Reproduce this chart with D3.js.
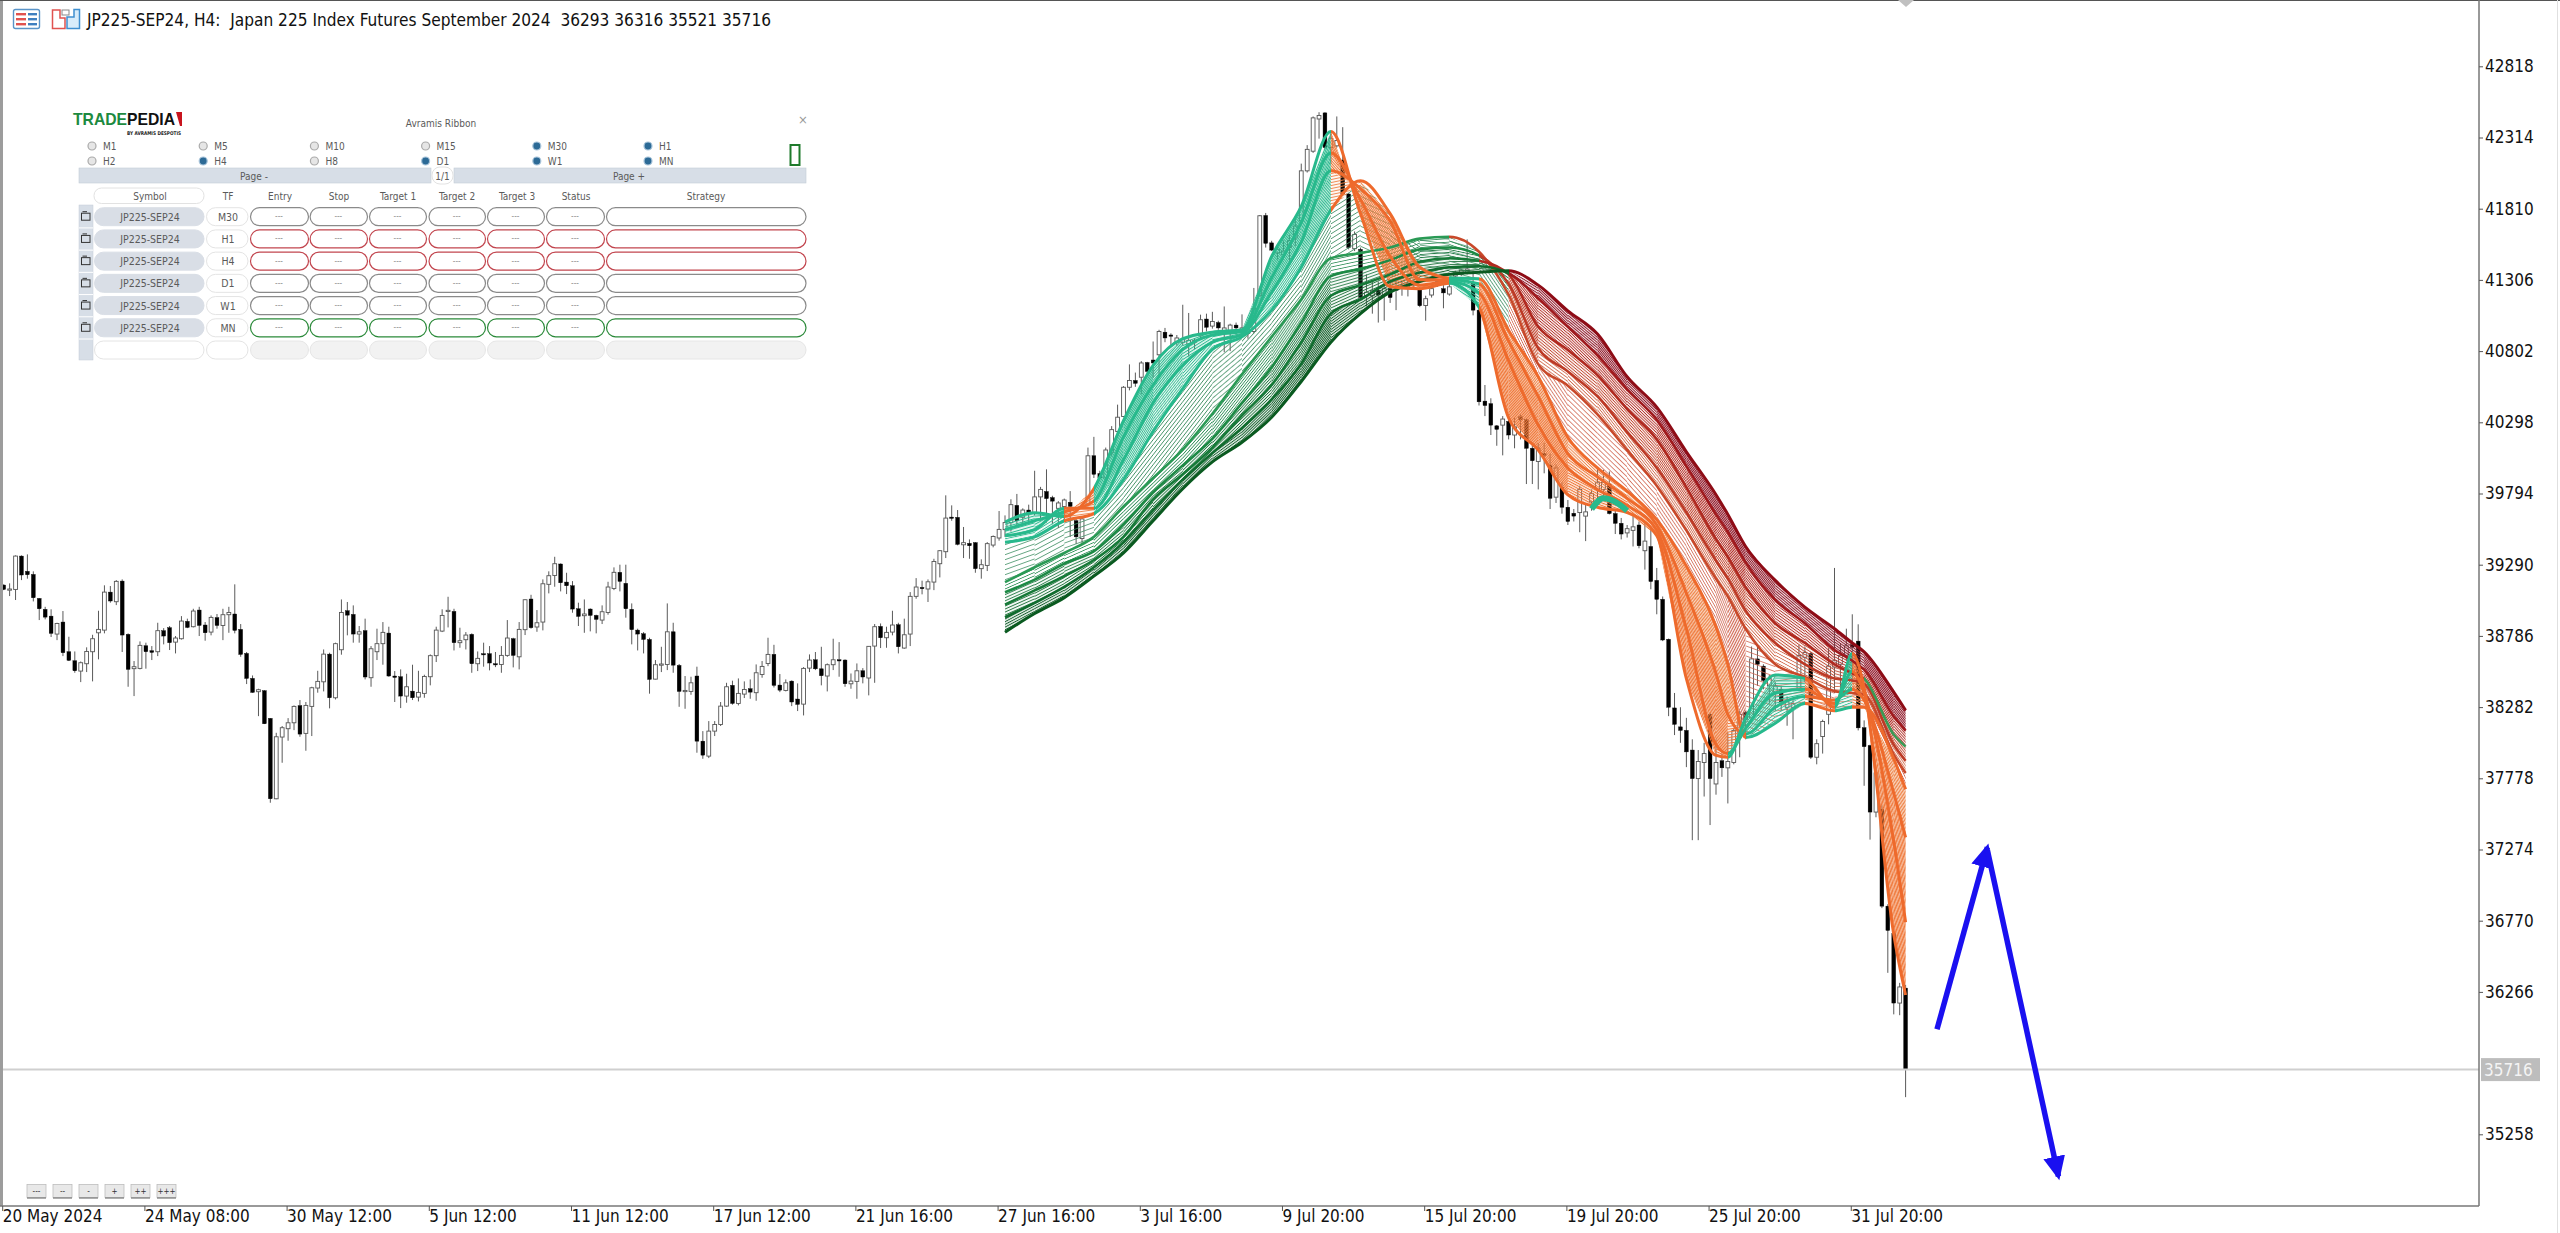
<!DOCTYPE html>
<html><head><meta charset="utf-8">
<script src="https://cdn.jsdelivr.net/npm/d3@7"></script>
<style>
html,body{margin:0;padding:0;background:#fff;overflow:hidden}
svg{display:block}
text{font-family:'DejaVu Sans Condensed','DejaVu Sans',sans-serif;white-space:pre}
</style></head><body>
<svg id="c" width="2560" height="1233"></svg>
<script>
// ---------- data: candles (prices) ----------
const opens=[39146,39113,39115,39351,39243,39221,39051,38974,38926,38799,
38884,38674,38610,38537,38589,38674,38808,38827,39096,39028,
39174,38797,38554,38556,38716,38681,38674,38823,38844,38742,
38766,38889,38851,38969,38863,38813,38915,38860,38936,38941,
38832,38662,38485,38391,38398,38202,37633,38070,38129,38171,
38292,38096,38287,38417,38461,38657,38348,38688,38964,38938,
38799,38823,38490,38674,38731,38806,38502,38497,38360,38395,
38353,38379,38497,38646,38820,38962,38959,38738,38759,38797,
38589,38660,38660,38589,38584,38648,38766,38638,38830,39047,
38849,38884,39151,39214,39295,39167,39141,38978,38929,38976,
38931,38898,38952,39122,39236,39158,38974,38827,38801,38761,
38480,38579,38584,38815,38577,38395,38393,38502,38041,37935,
38112,38159,38289,38436,38308,38374,38412,38384,38513,38591,
38655,38438,38400,38466,38339,38303,38558,38617,38553,38502,
38582,38617,38615,38447,38464,38539,38488,38714,38853,38773,
38813,38865,38700,38799,39066,39129,39118,39167,39297,39382,
39627,39625,39431,39441,39446,39262,39285,39429,39479,39538,
39588,39710,39626,39677,39652,39770,39808,39765,39689,39702,
39732,39601,39475,39715,40061,39935,39904,40086,40233,40339,
40546,40594,40617,40721,40739,40776,40936,40916,40865,40865,
40852,40865,40910,41029,40979,41004,40941,40941,40986,40941,
40928,40941,41194,41762,41568,41497,41484,41535,41603,41724,
42078,42217,42445,42488,42243,42255,42154,41914,41527,41522,
41194,41194,41232,41199,41244,41232,41244,41257,41269,41244,
41125,41199,41269,41244,41206,41333,41345,41358,41282,41092,
40448,40430,40273,40278,40304,40208,40337,40316,40114,40021,
40076,39995,39768,39836,39697,39654,39659,39634,39735,39823,
39823,39861,39652,39583,39515,39533,39571,39389,39419,39179,
39045,38762,38276,38142,38117,37978,37776,37890,38231,37738,
37902,37852,37890,38066,38243,38205,38623,38572,38433,38382,
38408,38281,38281,38408,38635,38661,37927,38074,38231,38565,
38585,38648,38724,38749,38136,38010,37539,37559,36873,36681,
36187,36293];
const closes=[39115,39118,39351,39217,39219,39056,38978,38919,38804,38874,
38667,38613,38539,38596,38676,38766,38832,39096,39033,39172,
38792,38549,38568,38719,38674,38669,38823,38785,38738,38771,
38891,38846,38962,38860,38808,38917,38860,38936,38952,38825,
38655,38485,38386,38405,38164,37633,38072,38136,38171,38287,
38091,38294,38419,38464,38657,38348,38731,38952,38933,38799,
38815,38495,38695,38731,38811,38502,38492,38360,38426,38348,
38386,38499,38646,38827,38931,38967,38738,38752,38792,38589,
38627,38653,38594,38582,38648,38771,38648,38832,39042,38844,
38879,39155,39212,39297,39162,39141,38976,38924,38941,38931,
38903,38957,39132,39236,39172,38978,38830,38799,38761,38478,
38582,38587,38815,38579,38393,38400,38454,38041,37942,38112,
38159,38289,38426,38308,38379,38407,38388,38525,38570,38655,
38436,38402,38454,38318,38301,38556,38615,38553,38504,38582,
38617,38610,38447,38466,38539,38495,38712,38851,38773,38811,
38863,38709,38794,39066,39132,39120,39169,39313,39389,39620,
39618,39434,39446,39424,39262,39290,39439,39490,39540,39588,
39715,39601,39677,39652,39770,39823,39758,39740,39727,39748,
39702,39487,39614,40061,39930,39904,40102,40246,40334,40546,
40594,40574,40718,40658,40718,40941,40895,40908,40895,40885,
40878,40878,41024,40971,41012,40966,40966,40986,40966,40966,
40953,41103,41760,41565,41517,41522,41510,41585,41687,42078,
42230,42453,42470,42243,42306,42293,41914,41535,41628,41181,
41219,41232,41199,41244,41181,41257,41269,41282,41295,41123,
41173,41244,41295,41214,41257,41358,41376,41383,41092,40443,
40417,40278,40248,40321,40208,40266,40316,40114,40026,40114,
40064,39760,39975,39697,39596,39634,39823,39664,39793,39874,
39874,39652,39583,39507,39545,39558,39424,39457,39171,39045,
38757,38281,38160,38117,37965,37776,37897,37953,37776,37890,
37852,37897,38117,38231,38193,38623,38585,38471,38484,38433,
38319,38319,38306,38648,38668,37927,38023,38180,38572,38610,
38648,38716,38706,38135,38002,37539,37816,36873,36701,36187,
36301,35716];
const highs=[39151,39158,39356,39356,39363,39243,39054,38992,38974,38879,
38962,38780,38676,38605,38705,38794,38964,39144,39139,39181,
39186,38804,38608,38747,38738,38714,38879,38841,38856,38785,
38926,38908,38978,38992,38884,38931,38941,38978,38992,39151,
38870,38672,38506,38412,38402,38204,38100,38148,38204,38294,
38332,38318,38426,38539,38690,38667,38738,39044,39026,39002,
38856,38908,38714,38837,38884,38851,38537,38549,38518,38582,
38539,38511,38655,38851,38974,39063,38978,38844,38813,38804,
38676,38738,38714,38672,38714,38898,38773,38884,39044,39077,
38969,39186,39243,39346,39299,39233,39174,39021,39044,38981,
38936,39002,39169,39271,39290,39290,39016,38837,38813,38773,
38615,38709,39016,38879,38587,38502,38497,38568,38112,38183,
38183,38318,38454,38469,38485,38464,38478,38584,38608,38773,
38723,38516,38478,38471,38450,38565,38655,38672,38709,38591,
38766,38742,38620,38520,38591,38558,38714,38870,38874,38851,
38964,38879,38908,39096,39195,39177,39186,39332,39394,39781,
39710,39677,39557,39469,39450,39328,39450,39497,39670,39639,
39753,39791,39689,39715,39955,39841,39965,39778,39740,39758,
39811,39614,39626,40119,40195,39955,40119,40271,40423,40554,
40708,40650,40731,40726,40870,40953,40966,40928,40916,41130,
41072,40890,41060,41067,41080,41017,41118,40996,41004,41062,
40966,41249,41765,41780,41583,41542,41585,41623,41755,42129,
42260,42463,42493,42493,42344,42463,42387,41922,41649,41535,
41345,41307,41295,41295,41307,41320,41295,41307,41307,41257,
41194,41269,41307,41269,41282,41371,41383,41593,41371,41100,
40562,40468,40278,40342,40354,40329,40354,40329,40152,40152,
40152,40076,40000,39874,39748,39684,39849,39722,39823,39975,
39962,39950,39672,39621,39571,39646,39596,39596,39545,39267,
39065,38767,38382,38281,38206,38054,37978,38029,38243,38054,
37953,38104,38130,38256,38256,38711,38711,38585,38509,38458,
38433,38357,38332,38724,38711,38673,38054,38193,38699,39267,
38736,38837,38939,38868,38188,38016,37845,37587,36887,36687,
36330,36316];
const lows=[39110,39068,39040,39181,39191,39030,38898,38903,38778,38756,
38643,38608,38525,38459,38530,38464,38620,38804,39021,39004,
38672,38426,38360,38549,38554,38615,38643,38726,38686,38662,
38760,38841,38846,38785,38752,38790,38837,38756,38808,38804,
38638,38445,38384,38218,38162,37605,37630,37888,38044,38119,
38072,37973,38077,38384,38393,38273,38336,38653,38790,38738,
38738,38478,38426,38615,38582,38497,38318,38275,38313,38332,
38322,38348,38436,38601,38813,38846,38683,38702,38690,38525,
38537,38568,38542,38565,38525,38638,38563,38549,38792,38837,
38815,38825,39087,39134,39101,39082,38950,38856,38808,38818,
38804,38870,38936,39110,39101,38915,38726,38683,38662,38377,
38478,38530,38544,38525,38284,38270,38369,37959,37916,37921,
38077,38148,38284,38299,38294,38346,38341,38327,38490,38572,
38421,38388,38393,38289,38254,38223,38530,38544,38436,38393,
38544,38497,38426,38412,38341,38450,38365,38454,38700,38702,
38790,38662,38695,38714,39049,39080,39026,39110,39200,39337,
39601,39427,39337,39332,39233,39191,39245,39413,39460,39487,
39525,39550,39563,39576,39639,39601,39588,39576,39550,39601,
39487,39437,39437,39702,39904,39899,39892,40056,40195,40334,
40524,40549,40498,40637,40612,40612,40865,40840,40840,40840,
40764,40814,40890,40941,40961,40953,40794,40802,40916,40916,
40890,40928,41189,41535,41510,41451,41451,41434,41547,41712,
42066,42205,42306,42230,42129,42243,41901,41522,41510,41168,
41118,41067,41004,41017,41143,41092,41194,41189,41244,41113,
41017,41181,41257,41105,41194,41320,41333,41345,41055,40417,
40342,40208,40132,40064,40177,40114,40177,39861,39861,39823,
39937,39684,39727,39651,39571,39596,39520,39457,39672,39748,
39748,39646,39507,39469,39482,39419,39406,39255,39116,38939,
38749,38218,38084,38029,37857,37340,37340,37649,37447,37662,
37788,37600,37877,37927,38054,38180,38433,38408,38306,38256,
38256,38150,38054,38395,38458,37915,37877,37953,38160,38382,
38408,38610,38458,38117,37725,37344,37502,36859,36401,36107,
36101,35521];

// ---------- data: ribbon guide lines (prices at the bars listed) ----------
const ribbonBars=[169,174,179,184,189,194,199,204,209,214,219,224,229,234,239,244,249,254,259,264,269,274,279,284,289,291,294,299,304,309,312,314,319,321];
const fast0=[39591,39657,39631,39828,40309,40701,40890,40936,40953,41472,41826,42356,41775,41257,41244,41282,41113,40329,40101,39785,39697,39659,39495,38484,37940,37927,38205,38509,38484,38281,38661,38420,36673,36244];
const fast1=[39538,39601,39664,39740,40195,40562,40814,40916,40941,41320,41712,42205,41876,41472,41269,41295,41214,40733,40278,39975,39823,39710,39533,38837,38016,37953,38130,38382,38408,38307,38534,38382,37330,36759];
const fast2=[39495,39538,39689,39689,40031,40435,40701,40865,40921,41219,41573,42078,41952,41724,41307,41307,41277,40873,40481,40076,39912,39760,39571,39090,38521,38231,38092,38281,38357,38332,38408,38332,37673,37359];
const fast3=[39449,39487,39601,39652,39892,40233,40536,40814,40903,41092,41396,41800,42008,41775,41396,41320,41315,40948,40620,40190,39975,39811,39609,39280,38850,38585,38066,38168,38307,38256,38281,38281,37916,37700];
const slow0=[39166,39272,39373,39487,39702,39904,40107,40359,40637,40903,41168,41459,41497,41535,41598,41611,41505,41201,40708,40557,40354,40101,39849,39533,39191,39065,38837,38585,38496,38395,38382,38370,37945,37816];
const slow1=[39095,39184,39298,39386,39576,39803,39993,40182,40435,40688,41004,41333,41383,41446,41522,41535,41479,41277,40822,40658,40481,40228,39975,39659,39318,39191,38964,38736,38585,38484,38471,38446,38016,37902];
const slow2=[39007,39108,39209,39323,39487,39753,39930,40119,40347,40562,40865,41194,41269,41345,41434,41459,41441,41345,40974,40809,40632,40392,40177,39836,39469,39343,39128,38875,38736,38585,38521,38484,38088,38002];
const slow3=[38918,39020,39133,39272,39449,39677,39892,40081,40258,40460,40713,41067,41168,41295,41358,41396,41403,41353,41176,40974,40771,40531,40316,39988,39646,39520,39305,39040,38875,38686,38610,38547,38216,38116];
const slow4=[38812,38944,39057,39209,39373,39601,39828,40018,40157,40334,40587,40865,41067,41219,41295,41345,41360,41371,41269,41087,40923,40620,40405,40089,39785,39646,39419,39179,38989,38837,38736,38673,38388,38259];
// trend of each span between listed bars: 1 rising, 0 falling
const fastTrend=[1,1,0,1,1,1,1,1,1,1,1,0,0,0,0,1,0,0,0,0,0,0,0,0,0,1,1,1,0,1,0,0,0];
const slowTrend=[1,1,1,1,1,1,1,1,1,1,1,1,1,1,1,1,1,0,0,0,0,0,0,0,0,0,0,0,0,0,0,0,0];
const slowLineFlipBars=[244,249,249,254,254];
const mixedTurnBar=291;               // fastest lines have turned up here, slower ones still fall
const humpBars=[268,270,272,274], humpPrices=[39684,39760,39735,39672];

// ---------- data: labels ----------
const priceTicks=[42818,42314,41810,41306,40802,40298,39794,39290,38786,38282,37778,37274,36770,36266,35258];
const timeTickBars=[0,24,48,72,96,120,144,168,192,216,240,264,288,312];
const timeTickLabels=["20 May 2024","24 May 08:00","30 May 12:00","5 Jun 12:00","11 Jun 12:00","17 Jun 12:00","21 Jun 16:00","27 Jun 16:00","3 Jul 16:00","9 Jul 20:00","15 Jul 20:00","19 Jul 20:00","25 Jul 20:00","31 Jul 20:00"];
const titleText="JP225-SEP24, H4:  Japan 225 Index Futures September 2024  36293 36316 35521 35716";
const lastPrice=35716;
const arrowUpBars=[326.3,334.8], arrowUpPrices=[36001,37290];
const arrowDownBars=[334.8,346.8], arrowDownPrices=[37270,34960];
const panelRadioTop=["M1","M5","M10","M15","M30","H1"];
const panelRadioBottom=["H2","H4","H8","D1","W1","MN"];
const panelRadioOn=["M30","H1","H4","D1","W1","MN"];
const panelHeaders=["Entry","Stop","Target 1","Target 2","Target 3","Status","Strategy"];
const panelFrames=["M30","H1","H4","D1","W1","MN"];
const panelSymbol="JP225-SEP24";
const panelFrameTone=["n","r","r","n","n","g"];
const zoomButtons=["---","--","-","+","++","+++"];

// ---------- scales ----------
const svg=d3.select("#c");
const x=d3.scaleLinear().domain([0,321]).range([3.7,1905.6]);
const y=d3.scaleLinear().domain([42818,35258]).range([66.3,1134.3]);
const AX=2479, AY=1206;
const defs=svg.append("defs");

svg.append("rect").attr("width",2560).attr("height",1233).attr("fill","#fff");

// ---------- candles ----------
const bars=d3.range(opens.length);
const cg=svg.append("g").attr("class","candles");
cg.selectAll("line").data(bars).join("line")
 .attr("x1",i=>x(i)).attr("x2",i=>x(i)).attr("y1",i=>y(highs[i])).attr("y2",i=>y(lows[i]))
 .attr("stroke","#5a5a5a").attr("stroke-width",1);
cg.selectAll("rect").data(bars).join("rect")
 .attr("x",i=>x(i)-1.9).attr("width",3.8)
 .attr("y",i=>Math.min(y(opens[i]),y(closes[i])))
 .attr("height",i=>Math.max(1.2,Math.abs(y(opens[i])-y(closes[i]))))
 .attr("fill",i=>closes[i]<opens[i]?"#000":"#fff")
 .attr("stroke",i=>closes[i]<opens[i]?"#000":"#555").attr("stroke-width",i=>closes[i]<opens[i]?0.4:0.9);

// ---------- ribbon ----------
const guides=[fast0,fast1,fast2,fast3,slow0,slow1,slow2,slow3,slow4];
const spans=d3.range(ribbonBars.length-1);
const hatchCache=new Map();
function hatch(color,gap,angle,w){
  const a=Math.round(angle/4)*4;
  const key=[color,gap,a,w].join("_");
  if(hatchCache.has(key)) return hatchCache.get(key);
  const id="h"+hatchCache.size;
  const tile=Math.max(1.4,gap*Math.cos(a*Math.PI/180));
  const p=defs.append("pattern").attr("id",id).attr("patternUnits","userSpaceOnUse")
    .attr("width",10).attr("height",tile).attr("patternTransform",`rotate(${a})`);
  p.append("rect").attr("width",10).attr("height",w).attr("fill",color);
  hatchCache.set(key,id); return id;
}
const bandUp=[
 {c:"#2dbb90",g:2.8,w:1,tint:"#2fbf95",t:.14},{c:"#2dbb90",g:3,w:1,tint:"#2fbf95",t:.12},{c:"#35bd93",g:3.2,w:.9,tint:"#2fbf95",t:.06},
 {c:"#3f8f63",g:5,w:.75,t:0},
 {c:"#2f8f58",g:3.5,w:.8,t:0},{c:"#237a45",g:3.1,w:.85,tint:"#6faf85",t:.07},{c:"#1d7038",g:3,w:.85,tint:"#6faf85",t:.1},{c:"#14602c",g:2.7,w:.9,tint:"#5a8f6a",t:.16}];
const bandDown=[
 {c:"#ef7636",g:2.6,w:1,tint:"#f08a50",t:.16},{c:"#ef7a3c",g:2.8,w:1,tint:"#f08a50",t:.12},{c:"#ee8448",g:3,w:.9,tint:"#f08a50",t:.08},
 {c:"#d0644f",g:5,w:.75,t:0},
 {c:"#cf6648",g:3.4,w:.8,t:0},{c:"#c24a35",g:3,w:.85,tint:"#e0a890",t:.1},{c:"#b2302a",g:2.8,w:.85,tint:"#e0a890",t:.12},{c:"#8f1628",g:2.6,w:.95,tint:"#b06a70",t:.16}];

const ribbon=svg.append("g").attr("class","ribbon");
const quad=d3.area().x(d=>d.x).y0(d=>d.a).y1(d=>d.b);
[7,6,5,4,3,2,1,0].forEach(b=>{
  const A=guides[b],B=guides[b+1];
  const seg=ribbon.append("g");
  spans.forEach(k=>{
    const pts=[k,k+1].map(j=>({x:x(ribbonBars[j]),a:y(A[j]),b:y(B[j])}));
    let up=(b<3?fastTrend[k]:slowTrend[k])===1;
    if(b>0&&b<3&&ribbonBars[k]===mixedTurnBar) up=false;
    const st=(up?bandUp:bandDown)[b];
    const dx=pts[1].x-pts[0].x;
    const ang=Math.atan2(((pts[1].a-pts[0].a)+(pts[1].b-pts[0].b))/2,dx)*180/Math.PI;
    if(st.t>0) seg.append("path").attr("d",quad(pts)).attr("fill",st.tint).attr("opacity",st.t);
    seg.append("path").attr("d",quad(pts)).attr("fill",`url(#${hatch(st.c,st.g,ang,st.w)})`);
  });
});
// thick guide lines, coloured by trend through a hard-stop gradient
const xA=x(ribbonBars[0]),xB=x(ribbonBars[ribbonBars.length-1]);
function gradient(id,colorOf){
  const g=defs.append("linearGradient").attr("id",id).attr("gradientUnits","userSpaceOnUse")
    .attr("x1",xA).attr("x2",xB).attr("y1",0).attr("y2",0);
  spans.forEach(k=>{
    const c=colorOf(k);
    [ribbonBars[k],ribbonBars[k+1]].forEach(b=>g.append("stop").attr("offset",(x(b)-xA)/(xB-xA)).attr("stop-color",c));
  });
  return `url(#${id})`;
}
const slowUpColors=["#2a9a55","#1d8a45","#167a38","#106c2e","#0a5a20"];
const slowDownColors=["#c8492a","#bd3a26","#b02a20","#a01a1e","#8e0c16"];
const line=d3.line().x((d,j)=>x(ribbonBars[j])).y(d=>y(d)).curve(d3.curveMonotoneX);
[slow0,slow1,slow2,slow3,slow4].forEach((s,n)=>{
  const stroke=gradient("gs"+n,k=>{
    if(n===2 && ribbonBars[k]>=314) return "#3a9a55";
    return ribbonBars[k]<slowLineFlipBars[n]?slowUpColors[n]:slowDownColors[n];
  });
  ribbon.append("path").attr("d",line(s)).attr("fill","none").attr("stroke",stroke).attr("stroke-width",n===4?3:2.6);
});
[fast3,fast2,fast1,fast0].forEach((s,n)=>{
  const stroke=gradient("gf"+n,k=>{
    if(ribbonBars[k]===mixedTurnBar&&n<2) return "#ee6a2c";
    return fastTrend[k]?"#27b98c":"#ee6a2c";
  });
  ribbon.append("path").attr("d",line(s)).attr("fill","none").attr("stroke",stroke).attr("stroke-width",3);
});
ribbon.append("path").attr("d",d3.line().x((d,j)=>x(humpBars[j])).y(d=>y(d)).curve(d3.curveMonotoneX)(humpPrices))
 .attr("fill","none").attr("stroke","#27b98c").attr("stroke-width",6);

// ---------- current price line ----------
svg.append("line").attr("x1",3).attr("x2",AX).attr("y1",y(lastPrice)).attr("y2",y(lastPrice)).attr("stroke","#cfcfcf").attr("stroke-width",2);

// ---------- blue arrows ----------
defs.append("marker").attr("id","ah").attr("markerUnits","userSpaceOnUse").attr("markerWidth",26).attr("markerHeight",24)
 .attr("refX",20).attr("refY",11).attr("orient","auto")
 .append("path").attr("d","M0,0 L24,11 L0,22 Z").attr("fill","#1a10f0");
const arrow=d3.line().x(d=>x(d[0])).y(d=>y(d[1]));
[[arrowUpBars,arrowUpPrices],[arrowDownBars,arrowDownPrices]].forEach(([b,p])=>{
  svg.append("path").attr("d",arrow(b.map((v,i)=>[v,p[i]]))).attr("fill","none").attr("stroke","#1a10f0").attr("stroke-width",5.5).attr("marker-end","url(#ah)");
});

// ---------- axes & frame ----------
svg.append("rect").attr("x",0).attr("y",0).attr("width",3).attr("height",AY).attr("fill","#9c9c9c");
svg.append("line").attr("x1",0).attr("x2",2560).attr("y1",.5).attr("y2",.5).attr("stroke","#555");
svg.append("path").attr("d",`M1898,0 L1914,0 L1906,7 Z`).attr("fill","#c0c0c0");
const yAxis=d3.axisRight(y).tickValues(priceTicks).tickFormat(d=>d).tickSize(4).tickPadding(2);
const gy=svg.append("g").attr("transform",`translate(${AX},0)`).call(yAxis);
gy.select(".domain").attr("d",`M0,0V${AY}`).attr("stroke","#777").attr("stroke-width",1.5);
gy.selectAll("line").attr("stroke","#555");
gy.selectAll("text").attr("font-size",17).attr("fill","#111").style("font-family","'DejaVu Sans Condensed'");
const xAxis=d3.axisBottom(x).tickValues(timeTickBars).tickFormat((d,i)=>timeTickLabels[i]).tickSize(5).tickPadding(0);
const gx=svg.append("g").attr("transform",`translate(0,${AY})`).call(xAxis);
gx.select(".domain").attr("d",`M0,0H${AX}`).attr("stroke","#777").attr("stroke-width",1.5);
gx.selectAll("line").attr("stroke","#555");
gx.selectAll("text").attr("font-size",17).attr("fill","#111").attr("text-anchor","start").attr("dy",0).attr("y",3).attr("dominant-baseline","hanging").style("font-family","'DejaVu Sans Condensed'");
gx.selectAll(".tick").attr("transform",d=>`translate(${x(d)-1},0)`);
// last price tag
svg.append("rect").attr("x",2481).attr("y",y(lastPrice)-11.5).attr("width",59).attr("height",23).attr("fill","#bdbdbd");
svg.append("text").attr("x",2484).attr("y",y(lastPrice)+6).attr("font-size",17).attr("fill","#f4f4f4").text(lastPrice);
svg.append("line").attr("x1",2557.5).attr("x2",2557.5).attr("y1",0).attr("y2",1233).attr("stroke","#e0e0e0");

// ---------- title & icons ----------
svg.append("text").attr("x",87).attr("y",26).attr("font-size",17.5).attr("fill","#111")
 .attr("textLength",684).attr("lengthAdjust","spacingAndGlyphs").text(titleText);
const ic=svg.append("g");
ic.append("rect").attr("x",13.5).attr("y",9.5).attr("width",26).attr("height",19).attr("rx",2).attr("fill","#fff").attr("stroke","#5a94c8").attr("stroke-width",1.4);
[14,19,24].forEach(v=>{
 ic.append("rect").attr("x",16).attr("y",v-1).attr("width",10).attr("height",2.4).attr("fill","#e0524f");
 ic.append("rect").attr("x",28).attr("y",v-1).attr("width",9).attr("height",2.4).attr("fill","#3f7fbf");
});
ic.append("path").attr("d","M52.5,10 H60 V18 H65 V28.5 H52.5 Z").attr("fill","#fff").attr("stroke","#e0524f").attr("stroke-width",1.5);
ic.append("path").attr("d","M74,9.5 H79.5 V28.5 H67 V17 H74 Z").attr("fill","#d8ecfa").attr("stroke","#3f8fd0").attr("stroke-width",1.5);
ic.append("rect").attr("x",62).attr("y",10).attr("width",7).attr("height",5).attr("fill","#fff").attr("stroke","#888");

// ---------- panel ----------
const P=svg.append("g");
const gray="#5a5a5a";
function t(g,xx,yy,s,fs,col,anch){return g.append("text").attr("x",xx).attr("y",yy).attr("font-size",fs||10).attr("fill",col||gray).attr("text-anchor",anch||"middle").attr("dominant-baseline","central").text(s);}
// logo
const logo=P.append("text").attr("x",73).attr("y",125).attr("font-size",17).attr("font-weight","bold").attr("textLength",102).attr("lengthAdjust","spacingAndGlyphs").style("font-family","'Liberation Sans Narrow','Liberation Sans'");
logo.append("tspan").attr("fill","#1d8a3f").text("TRADE");
logo.append("tspan").attr("fill","#111").text("PEDIA");
P.append("path").attr("d","M176,112 H182 V126 H180 Z").attr("fill","#c8141e");
P.append("text").attr("x",127).attr("y",134.5).attr("font-size",5).attr("font-weight","bold").attr("fill","#222").attr("textLength",54).attr("lengthAdjust","spacingAndGlyphs").text("BY AVRAMIS DESPOTIS");
t(P,441,123,"Avramis Ribbon",10);
t(P,803,119,"×",13,"#999");
// radios
const radioX=d3.scalePoint().domain(d3.range(6)).range([92,648]);
[[panelRadioTop,146],[panelRadioBottom,161]].forEach(([arr,yy])=>{
  arr.forEach((lab,i)=>{
    const on=panelRadioOn.includes(lab);
    P.append("circle").attr("cx",radioX(i)).attr("cy",yy).attr("r",4).attr("fill",on?"#2c6a96":"#e6e6e6").attr("stroke",on?"#a8c4da":"#aaa").attr("stroke-width",1.2);
    t(P,radioX(i)+11,yy,lab,10,gray,"start");
  });
});
P.append("rect").attr("x",790.5).attr("y",145).attr("width",9).attr("height",20).attr("fill","#fff").attr("stroke","#1f7a2c").attr("stroke-width",2);
// page bar
const bar="#d7dee7";
P.append("rect").attr("x",79).attr("y",168).attr("width",352).attr("height",15).attr("fill",bar).attr("stroke","#c4ccd6").attr("stroke-width",.6);
P.append("rect").attr("x",454).attr("y",168).attr("width",352).attr("height",15).attr("fill",bar).attr("stroke","#c4ccd6").attr("stroke-width",.6);
t(P,254,176,"Page -"); t(P,629,176,"Page +");
P.append("rect").attr("x",432).attr("y",167).attr("width",21).attr("height",17).attr("rx",8).attr("fill","#fff").attr("stroke","#e2e2e2");
t(P,442.5,176,"1/1");
// columns
const colEdges=[[250,308],[309.6,367],[369,426],[428.5,485],[487,544],[546,604],[606,805.5]];
const rowY=d3.scaleLinear().domain([0,6]).range([216.7,350]);
const tone={n:"#8a8a8a",r:"#c2464f",g:"#2b8a3a"};
P.append("rect").attr("x",94).attr("y",188).attr("width",110).attr("height",15.5).attr("rx",7.5).attr("fill","#fff").attr("stroke","#e2e2e2");
t(P,150,196,"Symbol"); t(P,228,196,"TF");
panelHeaders.forEach((h,i)=>t(P,[280,339,398,457,517,576,706][i],196,h));
P.append("rect").attr("x",79).attr("y",205).attr("width",14).attr("height",155).attr("fill",bar).attr("stroke","#c4ccd6").attr("stroke-width",.5);
d3.range(7).forEach(r=>{
  const yy=rowY(r), empty=r===6, sym=!empty;
  if(r>0) P.append("line").attr("x1",79).attr("x2",93).attr("y1",yy-11).attr("y2",yy-11).attr("stroke","#fff");
  P.append("rect").attr("x",94.5).attr("y",yy-9).attr("width",109.5).attr("height",18).attr("rx",9).attr("fill",sym?"#d9dee6":"#fff").attr("stroke",sym?"#d9dee6":"#e4e4e4");
  P.append("rect").attr("x",206.5).attr("y",yy-9).attr("width",41.5).attr("height",18).attr("rx",9).attr("fill","#fff").attr("stroke","#e4e4e4");
  if(sym){
    P.append("rect").attr("x",81.5).attr("y",yy-3.5).attr("width",8.5).attr("height",7).attr("fill","none").attr("stroke","#333").attr("stroke-width",1);
    P.append("line").attr("x1",82.5).attr("x2",87).attr("y1",yy-5).attr("y2",yy-5).attr("stroke","#333");
    t(P,150,yy,panelSymbol,10.5); t(P,228,yy,panelFrames[r],10.5);
  }
  colEdges.forEach((e,c)=>{
    P.append("rect").attr("x",e[0]+.5).attr("y",yy-9).attr("width",e[1]-e[0]).attr("height",18).attr("rx",9)
     .attr("fill",empty?"#f2f2f2":"#fff").attr("stroke",empty?"#e6e6e6":tone[panelFrameTone[r]]).attr("stroke-width",empty?1:1.2);
    if(!empty&&c<6) t(P,(e[0]+e[1])/2,yy,"---",8,"#888");
  });
});
// zoom buttons
const btnX=d3.scalePoint().domain(d3.range(6)).range([27,157]);
zoomButtons.forEach((b,i)=>{
  P.append("rect").attr("x",btnX(i)).attr("y",1184.5).attr("width",19).attr("height",13).attr("fill","#e8e8e8").attr("stroke","#bdbdbd").attr("stroke-width",.8);
  P.append("line").attr("x1",btnX(i)).attr("x2",btnX(i)+19).attr("y1",1198).attr("y2",1198).attr("stroke","#777").attr("stroke-width",1.2);
  t(P,btnX(i)+9.5,1191,b,8,"#333");
});
</script>
</body></html>
